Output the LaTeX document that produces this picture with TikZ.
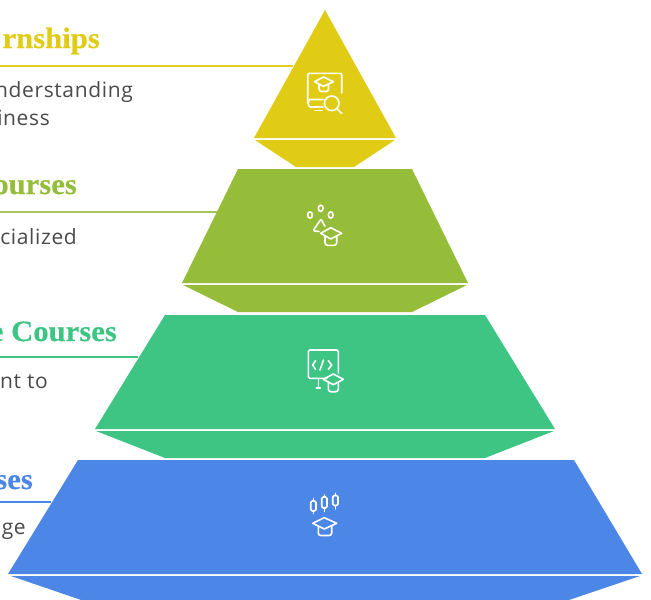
\documentclass[tikz,border=0pt]{standalone}
\usepackage{fontspec}
\setmainfont[LetterSpace=3]{Open Sans}
\newfontfamily\headfont[FakeStretch=1.04,FakeBold=0.4]{Liberation Serif}
\tikzset{
 px/.style={x=1pt,y=-1pt},
 headtext/.style={anchor=base east,inner sep=0pt,font=\headfont\bfseries\fontsize{29.5}{29.5}\selectfont},
 bodytext/.style={anchor=base east,inner sep=0pt,text=textgrey,font=\fontsize{21}{21}\selectfont},
 leader/.style={line width=2pt},
 icon/.style={draw=white,line width=1.6pt,line cap=round,line join=round},
}
\definecolor{cyellow}{HTML}{E0CC14}
\definecolor{colive}{HTML}{95BD39}
\definecolor{cgreen}{HTML}{3EC584}
\definecolor{cblue}{HTML}{4C86E6}
\definecolor{textgrey}{HTML}{4A4A4A}
\begin{document}
\begin{tikzpicture}[px]
\useasboundingbox (0,0) rectangle (651,600);
\clip (0,0) rectangle (651,600);
\fill[white] (0,0) rectangle (651,600);
% leaders
\coordinate (ly0) at (0,66); \coordinate (ly1) at (293,66);
\coordinate (lo0) at (0,211.5); \coordinate (lo1) at (217,211.5);
\coordinate (lg0) at (0,357); \coordinate (lg1) at (138,357);
\coordinate (lb0) at (0,502); \coordinate (lb1) at (51,502);
\draw[leader,draw=cyellow!95!white] (ly0) -- (ly1);
\draw[leader,draw=colive!85!white] (lo0) -- (lo1);
\draw[leader,draw=cgreen] (lg0) -- (lg1);
\draw[leader,draw=cblue] (lb0) -- (lb1);
% pyramid
\fill[cyellow] (325,10) -- (396,138) -- (254,138) -- cycle;
\fill[cyellow] (255,140) -- (395,140) -- (354,167) -- (296,167) -- cycle;
\fill[colive] (238,169) -- (412,169) -- (468,283) -- (182,283) -- cycle;
\fill[colive] (183,285) -- (467,285) -- (412,312) -- (238,312) -- cycle;
\fill[cgreen] (165,315) -- (485,315) -- (555,429) -- (95,429) -- cycle;
\fill[cgreen] (96,431) -- (554,431) -- (485,458) -- (165,458) -- cycle;
\fill[cblue] (78,460) -- (574,460) -- (642,574) -- (8,574) -- cycle;
\fill[cblue] (11,576) -- (640,576) -- (560,603) -- (90,603) -- cycle;
% labels
\node[headtext,text=cyellow] (t1) at (100,48) {rnships};
\node[bodytext] (b1a) at (133,97) {nderstanding};
\node[bodytext] (b1b) at (50,125) {iness};
\node[headtext,text=colive] (t2) at (77,194) {ourses};
\node[bodytext] (b2) at (77,244) {cialized};
\node[headtext,text=cgreen] (t3) at (117,341) {e Courses};
\node[bodytext] (b3) at (48,388) {nt to};
\node[headtext,text=cblue] (t4) at (33,489) {ses};
\node[bodytext] (b4) at (26,534) {ge};
% icon 1
\draw[icon] (323,107) -- (310,107) .. controls (307.7,107) and (307.7,99.5) .. (310,99.5) -- (323,99.5);
\draw[icon] (307.7,103) -- (307.7,75.3) .. controls (307.7,74) and (308.5,73.3) .. (310,73.3) -- (339.7,73.3) .. controls (341,73.3) and (341.7,74) .. (341.7,75.3) -- (341.7,93);
\draw[icon] (315,110.5) -- (322,110.5);
\draw[icon] (331.7,103.3) circle[radius=7.3];
\draw[icon] (337,108.6) -- (341.7,113.5);
\draw[icon] (314.5,81.7) -- (323.5,77) -- (333.5,81.7) -- (323.5,86.3) -- cycle;
\draw[icon,rounded corners=2.5pt] (319,84.2) -- (319,91.5) -- (328.5,91.5) -- (328.5,84.2);
% icon 2
\draw[icon] (310,215) ellipse[x radius=2.4,y radius=3.1];
\draw[icon] (320.7,208.3) ellipse[x radius=2.4,y radius=3.1];
\draw[icon] (330.7,215) ellipse[x radius=2.4,y radius=3.1];
\draw[icon] (325,226.2) -- (321.5,220);
\draw[icon,rounded corners=1.5pt] (320.8,219.5) -- (313,230.8) -- (319,231.5);
\draw[icon] (320.7,233.3) -- (330.7,227.7) -- (341.7,233.3) -- (330.7,239) -- cycle;
\draw[icon,rounded corners=2.5pt] (325,236.3) -- (325,245.3) -- (336.7,245.3) -- (336.7,236.3);
% icon 3
\draw[icon] (338.3,373) -- (338.3,351.5) .. controls (338.3,350.5) and (337.8,350) .. (336.8,350) -- (309.8,350) .. controls (308.8,350) and (308.3,350.5) .. (308.3,351.5) -- (308.3,376.8) .. controls (308.3,377.8) and (308.8,378.3) .. (309.8,378.3) -- (326.7,378.3);
\draw[icon] (318.3,378.3) -- (318.3,387);
\draw[icon] (316.3,388) -- (320.3,388);
\draw[icon] (315.5,360.7) -- (312.7,365) -- (315.5,369.3);
\draw[icon] (323.5,360) -- (320,370);
\draw[icon] (328.3,360.7) -- (331.7,365) -- (328.3,369.3);
\draw[icon] (323.3,379.3) -- (333.3,374) -- (343.3,379.3) -- (333.3,384.7) -- cycle;
\draw[icon,rounded corners=2.5pt] (328.3,382.3) -- (328.3,391.7) -- (338.3,391.7) -- (338.3,382.3);
% icon 4
\draw[icon,rounded corners=1.5pt] (310.7,501) rectangle (316,511);
\draw[icon] (313.3,498.5) -- (313.3,501) (313.3,511) -- (313.3,513.5);
\draw[icon,rounded corners=1.5pt] (321.7,497) rectangle (327,508);
\draw[icon] (324.3,495) -- (324.3,497) (324.3,508) -- (324.3,511.5);
\draw[icon,rounded corners=1.5pt] (332.7,495.5) rectangle (338,505.5);
\draw[icon] (335.3,493.3) -- (335.3,495.5) (335.3,505.5) -- (335.3,509);
\draw[icon] (312.7,523.3) -- (324.3,517.7) -- (336.7,523.3) -- (324.3,529) -- cycle;
\draw[icon,rounded corners=2.5pt] (318.3,526.3) -- (318.3,535.5) -- (331.7,535.5) -- (331.7,526.3);
\end{tikzpicture}
\end{document}
